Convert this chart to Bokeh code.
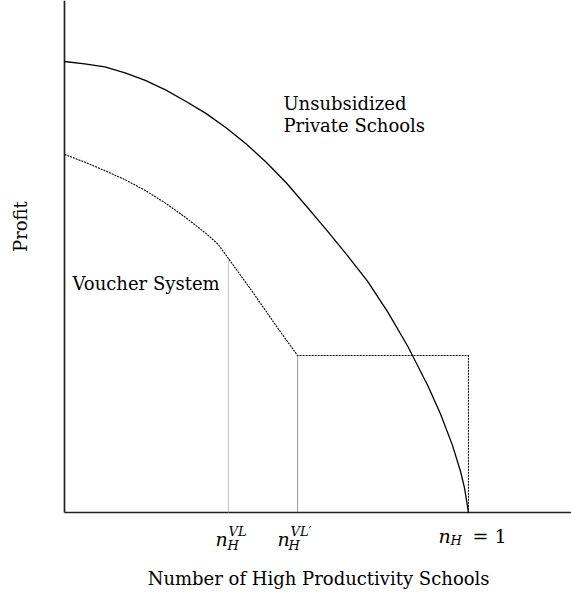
from bokeh.plotting import figure
from bokeh.models import Range1d, ColumnDataSource
from bokeh.core.properties import value
from bokeh.embed import file_html
from bokeh.resources import INLINE
import math

# --- data (x: share of high-productivity schools, y: profit) ---
outer_x = [0.0, 0.05, 0.10, 0.15, 0.20, 0.25, 0.30, 0.35, 0.40, 0.45, 0.50, 0.55,
           0.60, 0.65, 0.70, 0.75, 0.80, 0.85, 0.90, 0.93, 0.96, 0.98, 0.99, 1.0]
outer_y = [1.000, 0.995, 0.988, 0.975, 0.958, 0.937, 0.912, 0.885, 0.853, 0.817, 0.776, 0.730,
           0.678, 0.625, 0.570, 0.513, 0.445, 0.368, 0.280, 0.220, 0.150, 0.092, 0.055, 0.0]

voucher_x = [0.0, 0.05, 0.10, 0.15, 0.20, 0.25, 0.30, 0.35, 0.38, 0.406,
             0.468, 0.527, 0.577, 1.0, 1.0]
voucher_y = [0.794, 0.777, 0.758, 0.738, 0.714, 0.686, 0.654, 0.619, 0.595, 0.563,
             0.486, 0.410, 0.348, 0.348, 0.0]

n_vl = 0.406        # n_H^{VL}
n_vl_prime = 0.577  # n_H^{VL'}
n_h_one = 1.0       # n_H = 1
kink_y = 0.563
floor_y = 0.348

FONT = "DejaVu Serif"

x_lo, x_hi = -0.1584, 1.2550
y_lo, y_hi = -0.1818, 1.1353

p = figure(width=571, height=594, output_backend="svg", toolbar_location=None,
           x_range=Range1d(x_lo, x_hi), y_range=Range1d(y_lo, y_hi),
           min_border=0, min_border_left=0, min_border_right=0,
           min_border_top=0, min_border_bottom=0)
p.axis.visible = False
p.grid.visible = False
p.outline_line_color = None
p.background_fill_color = "white"
p.border_fill_color = "white"

# axes lines
p.segment(x0=[0, 0], y0=[0, 0], x1=[x_hi, 0], y1=[0, y_hi],
          line_color="#222222", line_width=1.7)

# unsubsidized private schools frontier
p.line(outer_x, outer_y, line_color="black", line_width=1.3)

# voucher system frontier (dotted)
p.line(voucher_x, voucher_y, line_color="black", line_width=1.1, line_dash="2 1")

# vertical guide lines
p.segment(x0=[n_vl], y0=[0], x1=[n_vl], y1=[kink_y],
          line_color="#888888", line_width=1, line_dash="1 1")
p.segment(x0=[n_vl_prime], y0=[0], x1=[n_vl_prime], y1=[floor_y],
          line_color="#333333", line_width=1, line_dash="1 1")

# curve labels
p.text(x=[0.542, 0.542, 0.0198], y=[0.907, 0.858, 0.508],
       text=["Unsubsidized", "Private Schools", "Voucher System"],
       text_font=value(FONT), text_font_size="18px", text_color="black",
       text_align="left", text_baseline="alphabetic")

# axis titles
p.text(x=[0.629], y=[-0.146], text=["Number of High Productivity Schools"],
       text_font=value(FONT), text_font_size="18px", text_color="black",
       text_align="center", text_baseline="alphabetic")
p.text(x=[-0.109], y=[0.634], text=["Profit"], angle=math.pi / 2,
       text_font=value(FONT), text_font_size="18px", text_color="black",
       text_align="center", text_baseline="middle")

# tick labels (n with sub/superscripts)
main_src = ColumnDataSource(dict(
    x=[n_vl, n_vl_prime, n_h_one],
    text=["n", "n", "n"],
    xo=[-13, -20, -30],
    yo=[26, 26, 23],
))
p.text(x="x", y=0, text="text", x_offset="xo", y_offset="yo", source=main_src,
       text_font=value(FONT), text_font_style="italic", text_font_size="19px",
       text_color="black", text_align="left", text_baseline="alphabetic")

sub_src = ColumnDataSource(dict(
    x=[n_vl, n_vl_prime, n_h_one, n_vl, n_vl_prime],
    text=["H", "H", "H", "VL", "VL\u2032"],
    xo=[-1, -9, -18, 0, -7],
    yo=[33, 33, 28, 19, 19],
))
p.text(x="x", y=0, text="text", x_offset="xo", y_offset="yo", source=sub_src,
       text_font=value(FONT), text_font_style="italic", text_font_size="13px",
       text_color="black", text_align="left", text_baseline="alphabetic")

p.text(x=[n_h_one], y=[0], text=["= 1"], x_offset=4, y_offset=23,
       text_font=value(FONT), text_font_size="19px", text_color="black",
       text_align="left", text_baseline="alphabetic")

open("out.html", "w").write(file_html(p, INLINE))
